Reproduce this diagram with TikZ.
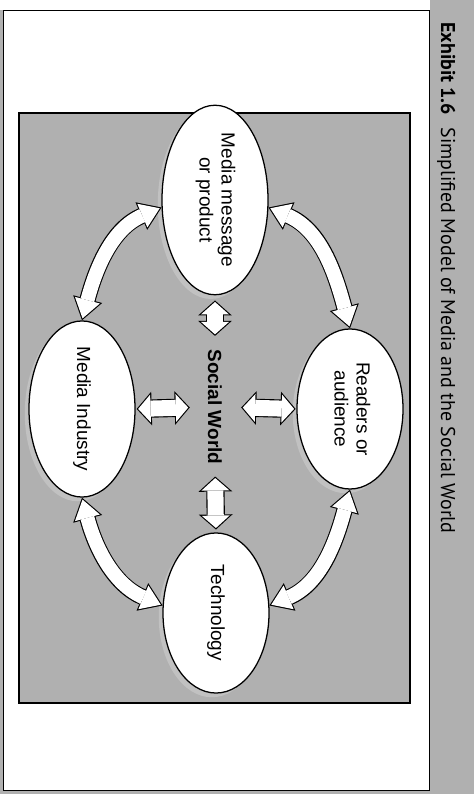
\documentclass[tikz,border=0pt]{standalone}
\usepackage{graphicx}
\usepackage{fontspec}
\setmainfont{Liberation Sans}
\newfontfamily\titlefont{PT Sans}
\usepackage{xcolor}
\definecolor{halftone}{HTML}{B0B0B0}
\definecolor{halo}{HTML}{D2D2D2}
\usepackage{tikz}
\usetikzlibrary{arrows.meta, shapes.geometric, positioning, shadows}

\tikzset{
  bighead/.tip={Triangle[width=21.3pt, length=15.6pt, line width=0pt]},
  bigcorehead/.tip={Triangle[width=18.3pt, length=13.4pt, line width=0pt]},
  smallhead/.tip={Triangle[width=24pt, length=10.7pt, line width=0pt]},
  smallcorehead/.tip={Triangle[width=19.8pt, length=8.8pt, line width=0pt]}
}

\begin{document}
\begin{tikzpicture}[
  x=0.025cm, y=0.025cm,
  bubble/.style={
    ellipse, draw=black, fill=white, line width=0.9pt,
    minimum width=2.65cm, minimum height=4cm, inner sep=0pt,
    font=\fontsize{13.5}{15.5}\selectfont,
    drop shadow={shadow xshift=-3pt, shadow yshift=-3pt, fill=halo}
  },
  bigrim/.style={black, line width=11.6pt, bighead-bighead},
  bigcore/.style={white, line width=10pt, bigcorehead-bigcorehead,
    shorten <=1.42pt, shorten >=1.42pt},
  smallrim/.style={black, line width=13pt, smallhead-smallhead},
  smallcore/.style={white, line width=11.4pt, smallcorehead-smallcorehead}
]
  % page, side strip and panel
  \useasboundingbox (0,0) rectangle (474,794);
  \fill[halftone] (430,0) rectangle (474,794);
  \fill[halftone] (0,0) rectangle (474,4);
  \fill[halftone] (0,0) rectangle (3,784);
  \draw[fill=white, line width=0.6pt] (3,4) rectangle (429,784);
  \draw[fill=halftone, line width=0.9pt] (19,91) rectangle (410,681);

  \node[rotate=-90, anchor=base west, inner sep=0pt,
        font=\titlefont\fontsize{14.2}{17}\selectfont] (title) at (441,772)
    {\textbf{Exhibit 1.6}\hspace{9pt}Simplified Model of Media and the Social World};

  % the four parts
  \node[bubble] (msg) at (215,594)
    {\rotatebox{-90}{\begin{tabular}{@{}c@{}}Media message\\or product\end{tabular}}};
  \node[bubble] (ind) at (82,385) {\rotatebox{-90}{Media Industry}};
  \node[bubble] (aud) at (350,385)
    {\rotatebox{-90}{\begin{tabular}{@{}c@{}}Readers or\\audience\end{tabular}}};
  \node[bubble] (tech) at (216,181) {\rotatebox{-90}{Technology}};
  \node[inner sep=0pt, font=\fontsize{13.5}{15.5}\selectfont\bfseries] (sw) at (215,387)
    {\rotatebox{-90}{Social World}};

  % ring of curved arrows
  \foreach \a/\b/\o/\i in {ind.90/msg.188/75/203, aud.90/msg.352/105/337,
                           ind.270/tech.172/285/157, aud.270/tech.8/255/23}
  {
    \draw[bigrim] (\a) to[out=\o, in=\i] (\b);
    \draw[bigcore] (\a) to[out=\o, in=\i] (\b);
  }

  % arrows to the social world
  \foreach \a/\b/\s/\e/\S/\E in {msg.south/sw.north/3.6pt/9.6pt/4.7pt/10.7pt,
                                 sw.south/tech.north/8.5pt/2pt/9.6pt/3.1pt,
                                 ind.east/sw.west/0.7pt/12.8pt/1.8pt/13.9pt,
                                 sw.east/aud.west/13.5pt/0.5pt/14.6pt/1.6pt}
  {
    \draw[smallrim, shorten <=\s, shorten >=\e] (\a) -- (\b);
    \draw[smallcore, shorten <=\S, shorten >=\E] (\a) -- (\b);
  }
\end{tikzpicture}
\end{document}
